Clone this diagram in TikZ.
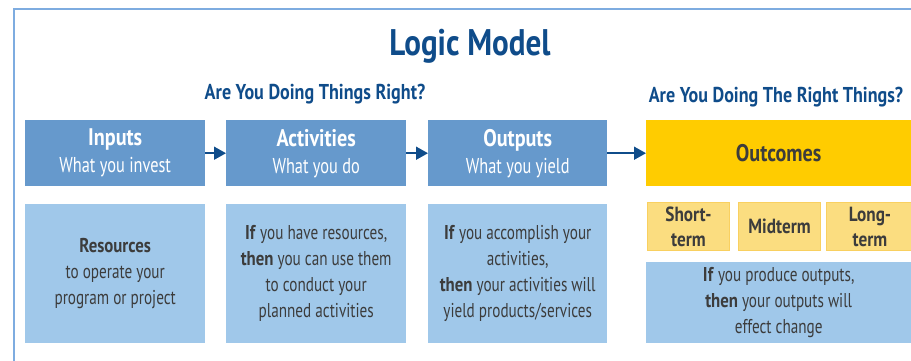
\documentclass[tikz,border=0pt]{standalone}
\usepackage{fontspec}
\setmainfont{PT Sans}[FakeStretch=0.76, BoldFeatures={FakeStretch=0.84}]
\usetikzlibrary{arrows.meta}
\definecolor{titleblue}{HTML}{0F4C8A}
\definecolor{headblue}{HTML}{6699CC}
\definecolor{lightblue}{HTML}{A0C8EA}
\definecolor{gold}{HTML}{FFCC00}
\definecolor{lightgold}{HTML}{FBDD80}
\definecolor{goldline}{HTML}{F9D060}
\definecolor{bodygray}{HTML}{3C3C3C}
\definecolor{framecol}{HTML}{7EACE0}
\tikzset{
  headbox/.style={fill=headblue, draw=none, anchor=north west, inner sep=0pt, text=white, align=center,
    font=\fontsize{21.5}{27}\selectfont},
  bodybox/.style={fill=lightblue, draw=none, anchor=north west, inner sep=0pt, text=bodygray, align=center,
    font=\fontsize{20}{26}\selectfont},
  termbox/.style={fill=lightgold, draw=goldline, line width=1pt, anchor=north west, inner sep=0pt, text=bodygray, align=center,
    font=\bfseries\fontsize{20.5}{25}\selectfont},
  flow/.style={draw=titleblue, line width=1.6pt, -{Triangle[length=12pt,width=13pt]}},
  subtitle/.style={text=titleblue, font=\bfseries\fontsize{21.5}{26}\selectfont, inner sep=0pt}
}
\begin{document}
\begin{tikzpicture}[x=1pt,y=-1pt]
\useasboundingbox (0,0) rectangle (911,360);
\draw[framecol, line width=1.2pt] (14,362) -- (14,9) -- (913,9);
\node[text=titleblue, font=\bfseries\fontsize{37}{40}\selectfont, inner sep=0pt] (title) at (470,46) {Logic Model};
\node[subtitle] (q1) at (315,94) {Are You Doing Things Right?};
\node[subtitle] (q2) at (776,97) {Are You Doing The Right Things?};
% header row
\node[headbox, minimum width=180pt, minimum height=66pt] (inputs) at (25,120) {\textbf{\fontsize{24}{27}\selectfont Inputs}\\What you invest};
\node[headbox, minimum width=180pt, minimum height=66pt] (activities) at (226,120) {\textbf{\fontsize{24}{27}\selectfont Activities}\\What you do};
\node[headbox, minimum width=179pt, minimum height=66pt] (outputs) at (428,120) {\textbf{\fontsize{24}{27}\selectfont Outputs}\\What you yield};
\node[headbox, fill=gold, text=bodygray, minimum width=265pt, minimum height=66pt] (outcomes) at (646,120) {\textbf{\fontsize{24}{27}\selectfont Outcomes}};
\draw[flow] (inputs) -- (activities);
\draw[flow] (activities) -- (outputs);
\draw[flow] (outputs) -- (outcomes);
% body row
\node[bodybox, minimum width=180pt, minimum height=139pt] (resources) at (25,204) {\textbf{Resources}\\to operate your\\program or project};
\node[bodybox, minimum width=180pt, minimum height=139pt] (actbody) at (226,204) {\textbf{If} you have resources,\\\textbf{then} you can use them\\to conduct your\\planned activities};
\node[bodybox, minimum width=179pt, minimum height=139pt] (outbody) at (428,204) {\textbf{If} you accomplish your\\activities,\\\textbf{then} your activities will\\yield products/services};
\node[termbox, minimum width=82pt, minimum height=48pt] (short) at (647,202) {Short-\\term};
\node[termbox, minimum width=82pt, minimum height=48pt] (mid) at (738,202) {Midterm};
\node[termbox, minimum width=87pt, minimum height=48pt] (long) at (826,202) {Long-\\term};
\node[bodybox, minimum width=265pt, minimum height=81pt] (outcbody) at (646,262) {\textbf{If} you produce outputs,\\\textbf{then} your outputs will\\effect change};
\end{tikzpicture}
\end{document}
